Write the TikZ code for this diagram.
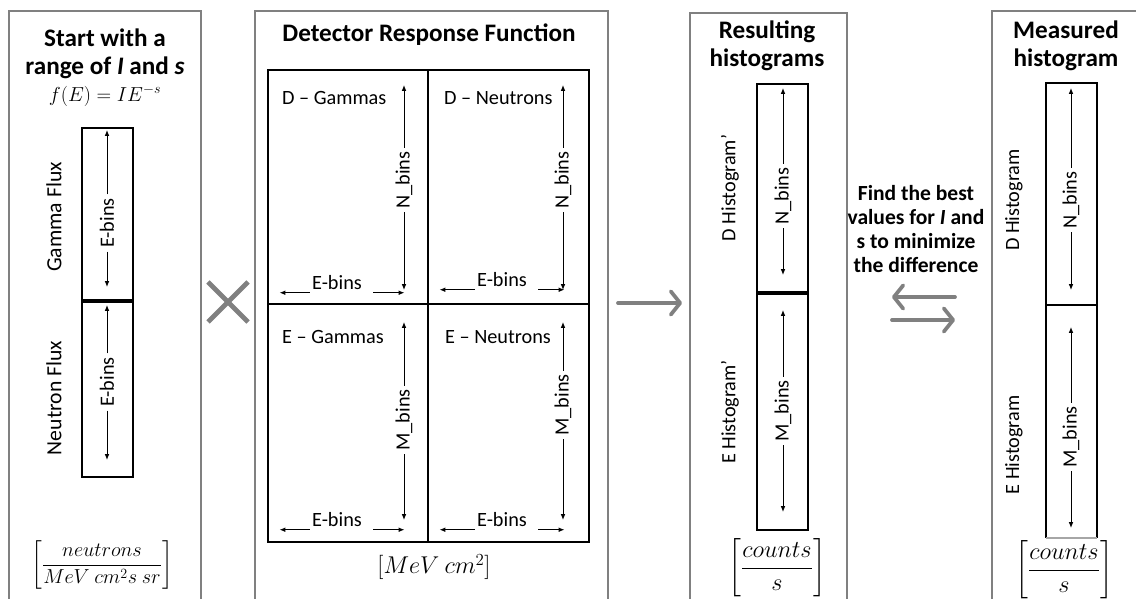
\documentclass[tikz,border=0pt]{standalone}
\usepackage{amsmath}
\usepackage{fontspec}
\setmainfont{Carlito}
\usetikzlibrary{arrows.meta}

\begin{document}
\begin{tikzpicture}[>={Latex[length=5pt,width=4pt]},x=0.03cm,y=-0.03cm,
    panel/.style={gray,line width=2.5pt},
    hbox/.style={line width=2pt},
    split/.style={line width=3.2pt},
    dim/.style={line width=0.8pt},
    bigarrow/.style={gray,line width=3.2pt,line cap=round,-{Straight Barb[length=8pt,width=20pt,round]}},
    title/.style={align=center,font=\fontsize{21.5}{23.5}\selectfont\bfseries},
    lbl/.style={font=\fontsize{17.3}{20}\selectfont},
    dimlbl/.style={lbl,rotate=90,inner sep=3pt},
    unit/.style={font=\fontsize{18}{21}\selectfont}]
  \useasboundingbox (0,0) rectangle (1136,599);

  % gray panel frames, open at the bottom
  \begin{scope}
    \clip (0,0) rectangle (1136,599);
    \draw[panel] (9,620) |- (201,11) -- (201,620);
    \draw[panel] (255,620) |- (608,11) -- (608,620);
    \draw[panel] (690,620) |- (847,13) -- (847,620);
    \draw[panel] (992,620) |- (1140,11);
  \end{scope}

  % titles
  \node[title] (t-start) at (105,54) {Start with a\\range of \textit{I} and \textit{s}};
  \node[title,anchor=base] (t-drf) at (429,42) {Detector Response Function};
  \node[title] (t-res) at (767,46) {Resulting\\histograms};
  \node[title] (t-meas) at (1066,46) {Measured\\histogram};
  \node[align=center,font=\fontsize{18.4}{20.5}\selectfont\bfseries] (t-fit) at (916,229)
    {Find the best\\values for \textit{I} and\\s to minimize\\the difference};

  % flux column
  \node[unit] (law) at (105,96) {$f(E) = IE^{-s}$};
  \draw[hbox] (82,128) rectangle (133,477);
  \draw[split] (82,301) -- (133,301);
  \node[lbl,rotate=90,font=\fontsize{18.5}{21}\selectfont] (gflux) at (54,217) {Gamma Flux};
  \node[lbl,rotate=90,font=\fontsize{18.5}{21}\selectfont] (nflux) at (54,398) {Neutron Flux};
  \node[unit] (u-flux) at (102,565) {$\left[\dfrac{neutrons}{MeV\ cm^2 s\ sr}\right]$};

  % response matrix, 2x2 cells
  \draw[hbox] (268,70) rectangle (589,542);
  \draw[hbox] (428,70) -- (428,542);
  \draw[hbox] (268,304) -- (589,304);
  \node[lbl,anchor=base west] (c-dg) at (278,105) {D -- Gammas};
  \node[lbl,anchor=base west] (c-dn) at (440,105) {D -- Neutrons};
  \node[lbl,anchor=base west] (c-eg) at (278,344) {E -- Gammas};
  \node[lbl,anchor=base west] (c-en) at (441,344) {E -- Neutrons};
  \node[unit,font=\fontsize{20}{23}\selectfont] (u-drf) at (434,567) {$[MeV\ cm^2]$};

  % histogram columns
  \draw[hbox] (757,84) rectangle (808,530);
  \draw[split] (757,293) -- (808,293);
  \node[lbl,rotate=90] (dh-res) at (730,188) {D Histogram'};
  \node[lbl,rotate=90] (eh-res) at (730,412) {E Histogram'};
  \node[unit,font=\fontsize{20}{23}\selectfont] (u-res) at (777,568) {$\left[\dfrac{counts}{s}\right]$};

  \draw[hbox] (1046,538) -- (1046,83) -- (1097,83) -- (1097,538);
  \draw[hbox,gray!70] (1046,538) -- (1097,538);
  \draw[hbox] (1046,305) -- (1097,305);
  \node[lbl,rotate=90] (dh-meas) at (1014,200) {D Histogram};
  \node[lbl,rotate=90] (eh-meas) at (1014,445) {E Histogram};
  \node[unit,font=\fontsize{20}{23}\selectfont] (u-meas) at (1064,570) {$\left[\dfrac{counts}{s}\right]$};

  % vertical bin arrows, split by their labels
  \foreach \n/\x/\ya/\yb/\yl/\t in {
      gb/107/130/287/223/E-bins, nb/107/305/460/382/E-bins,
      dgn/404/85/290/180/N\_bins, dnn/563/85/290/180/N\_bins,
      egm/404/322/520/420/M\_bins, enm/563/322/520/405/M\_bins,
      rdn/783/88/275/196/N\_bins, rem/783/310/512/411/M\_bins,
      mdn/1071/88/290/200/N\_bins, mem/1071/327/528/437/M\_bins} {
    \node[dimlbl] (\n) at (\x,\yl) {\t};
    \draw[dim,->] (\n.east) -- (\x,\ya);
    \draw[dim,->] (\n.west) -- (\x,\yb);
  }

  % horizontal E-bins arrows under each cell
  \foreach \n/\x/\yb/\l/\r in {
      dge/337/290/30/31, dne/502/287/35/26,
      ege/337/527/30/31, ene/502/527/35/26} {
    \node[lbl,anchor=base,inner sep=2pt] (\n) at (\x,\yb) {E-bins};
    \draw[dim,->] (\n.south west) -- ++(-\l,0);
    \draw[dim,->] (\n.south east) ++(9,0) -- ++(\r,0);
  }

  % operators between panels
  \draw[gray,line width=4.2pt] (208,282) -- (248,322) (208,322) -- (248,282);
  \coordinate (drf-out) at (618,303);
  \coordinate (res-in) at (682,303);
  \draw[bigarrow] (drf-out) -- (res-in);
  \coordinate (fit-l) at (892,297);
  \coordinate (fit-r) at (955,320);
  \draw[bigarrow] (fit-r |- fit-l) -- (fit-l);
  \draw[bigarrow] (fit-l |- fit-r) -- (fit-r);
\end{tikzpicture}
\end{document}
